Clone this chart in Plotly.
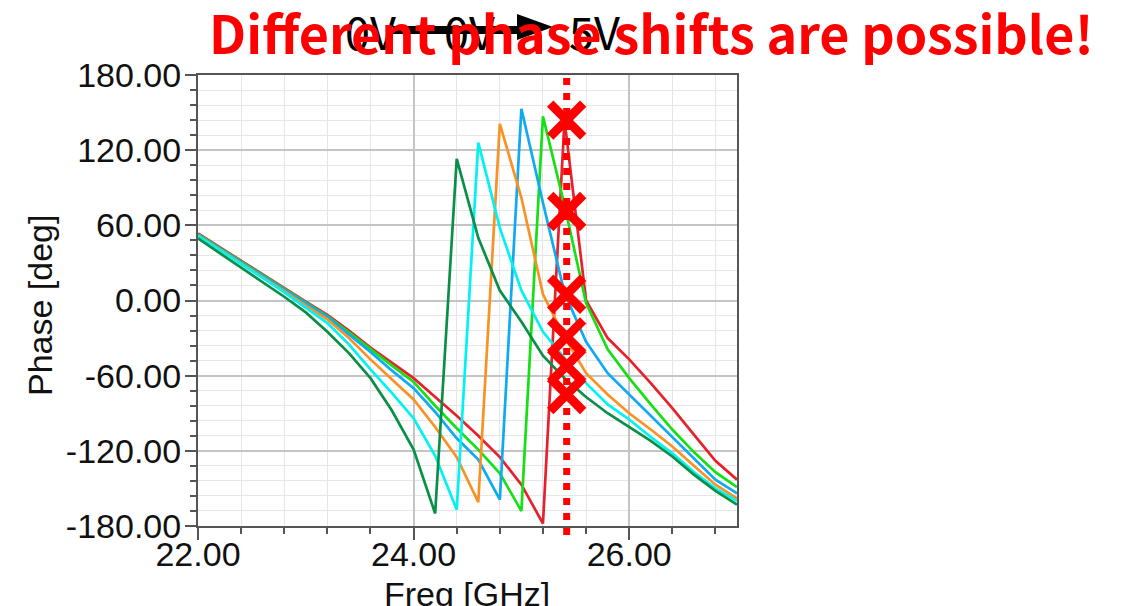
import plotly.graph_objects as go

# ---------------- data ----------------
freq_ghz = [22.0, 22.2, 22.4, 22.6, 22.8, 23.0, 23.2, 23.4, 23.6, 23.8,
            24.0, 24.2, 24.4, 24.6, 24.8, 25.0, 25.2, 25.4, 25.6, 25.8,
            26.0, 26.2, 26.4, 26.6, 26.8, 27.0]

phase_red = [53.5, 42.5, 31.5, 20.5, 9.5, -1.0, -11.5, -24.0, -37.5, -50.0,
             -62.0, -77.0, -92.0, -108.0, -125.0, -147.0, -178.0, 144.0, 0.0, -30.0,
             -47.0, -66.0, -86.0, -107.0, -128.0, -143.0]
phase_green = [53.0, 42.0, 31.0, 20.0, 9.0, -2.0, -12.5, -25.5, -39.0, -52.0,
               -65.0, -84.0, -102.0, -119.0, -138.0, -168.0, 147.0, 76.0, -2.0, -39.0,
               -62.0, -83.0, -103.0, -121.0, -137.0, -149.0]
phase_blue = [52.5, 41.5, 30.5, 19.5, 8.5, -2.0, -13.0, -27.0, -41.0, -56.0,
              -70.0, -89.0, -110.0, -127.0, -159.0, 153.0, 78.0, 6.0, -33.0, -58.0,
              -75.0, -92.0, -108.5, -126.0, -143.0, -154.0]
phase_orange = [52.0, 41.0, 30.0, 19.0, 7.5, -4.0, -15.0, -30.0, -47.0, -63.0,
                -79.0, -101.0, -125.0, -161.0, 141.0, 82.0, 5.0, -29.0, -58.0, -75.0,
                -90.0, -103.0, -116.5, -132.0, -147.0, -158.0]
phase_cyan = [51.5, 40.5, 29.5, 18.0, 6.5, -5.5, -18.0, -35.0, -55.0, -74.0,
              -94.0, -124.0, -167.0, 126.0, 58.0, 8.0, -25.0, -46.0, -66.0, -83.0,
              -95.0, -109.0, -122.0, -137.0, -150.0, -160.0]
phase_dkgreen = [49.5, 38.0, 26.5, 15.0, 3.0, -9.5, -25.0, -42.0, -62.0, -88.0,
                 -119.0, -170.0, 113.0, 50.0, 8.0, -17.0, -44.0, -62.0, -77.0, -90.0,
                 -101.0, -112.0, -124.5, -139.0, -152.0, -163.0]

marker_freq = 25.42
marker_phase = [144, 71, 5, -29, -52, -75]

y_ticks = [-180, -120, -60, 0, 60, 120, 180]
y_tick_labels = ["-180.00", "-120.00", "-60.00", "0.00", "60.00", "120.00", "180.00"]
x_ticks = [22, 24, 26]
x_tick_labels = ["22.00", "24.00", "26.00"]

series = [
    ("red", phase_red, "#e8202c"),
    ("green", phase_green, "#14e014"),
    ("blue", phase_blue, "#0eaaf2"),
    ("orange", phase_orange, "#f89224"),
    ("cyan", phase_cyan, "#00f2f2"),
    ("dkgreen", phase_dkgreen, "#0a8f48"),
]

# ---------------- figure ----------------
W, H = 1123, 606
L, R, T, B = 198, 386, 75, 80
PW, PH = W - L - R, H - T - B


def px(x):
    return (x - L) / PW


def py(y):
    return (H - B - y) / PH


fig = go.Figure()
for name, ys, col in series:
    fig.add_trace(go.Scatter(x=freq_ghz, y=ys, mode="lines", name=name,
                             line=dict(color=col, width=2.7), hoverinfo="skip"))

fig.add_trace(go.Scatter(
    x=[marker_freq] * len(marker_phase), y=marker_phase, mode="markers",
    marker=dict(symbol="x-thin", size=33, color="#ff0000",
                line=dict(color="#ff0000", width=9)),
    cliponaxis=False, hoverinfo="skip"))

fig.add_shape(type="line", xref="x", yref="paper", x0=marker_freq, x1=marker_freq,
              y0=-0.02, y1=0.995, line=dict(color="#ff0000", width=7, dash="7px,8px"),
              layer="above")

tick_font = dict(family="Liberation Sans, Arial, sans-serif", size=34, color="#111")
fig.update_xaxes(range=[22, 27], tickvals=x_ticks, ticktext=x_tick_labels,
                 showline=True, linecolor="#555", linewidth=2, mirror=True,
                 ticks="outside", ticklen=12, tickwidth=1.5, tickcolor="#555",
                 showgrid=True, gridcolor="#c4c4c4", gridwidth=1.5,
                 minor=dict(dtick=0.4, tick0=22, ticks="outside", ticklen=6, tickwidth=1.5,
                            tickcolor="#555", showgrid=True, gridcolor="#e6e6e6", gridwidth=1),
                 zeroline=False, tickfont=tick_font, ticklabelstandoff=-15)
fig.update_yaxes(range=[-180, 180], tickvals=y_ticks, ticktext=y_tick_labels,
                 showline=True, linecolor="#555", linewidth=2, mirror=True,
                 ticks="outside", ticklen=11, tickwidth=1.5, tickcolor="#555",
                 showgrid=True, gridcolor="#c4c4c4", gridwidth=1.5,
                 minor=dict(dtick=12, tick0=-180, ticks="outside", ticklen=6, tickwidth=1.5,
                            tickcolor="#555", showgrid=True, gridcolor="#e6e6e6", gridwidth=1),
                 zeroline=False, tickfont=tick_font, ticklabelstandoff=-3)

# axis titles
fig.add_annotation(xref="paper", yref="paper", x=px(467), y=py(594), text="Freq [GHz]",
                   showarrow=False, font=tick_font, xanchor="center", yanchor="middle")
fig.add_annotation(xref="paper", yref="paper", x=px(40), y=py(306), text="Phase [deg]",
                   showarrow=False, font=tick_font, textangle=-90,
                   xanchor="center", yanchor="middle")

# black header "0V ━ 0V ▶ 5V" (partly hidden by red text)
blk = dict(family="Noto Sans CJK KR, sans-serif", size=45, color="#000")
for txt, cx in [("0V", 370), ("0V", 469), ("5V", 594)]:
    fig.add_annotation(xref="paper", yref="paper", x=px(cx), y=py(31), text=txt,
                       showarrow=False, font=blk, xanchor="center", yanchor="middle")
fig.add_shape(type="rect", xref="paper", yref="paper", x0=px(393), x1=px(521),
              y0=py(34), y1=py(26), fillcolor="#000", line=dict(width=0))
fig.add_shape(type="path", xref="paper", yref="paper",
              path=f"M {px(517)} {py(14)} L {px(553)} {py(27)} L {px(517)} {py(40)} Z",
              fillcolor="#000", line=dict(width=0))

fig.add_annotation(xref="paper", yref="paper", x=px(207), y=py(32),
                   text="<b>Different phase shifts are possible!</b>", showarrow=False,
                   font=dict(family="Noto Sans CJK KR, sans-serif", size=52, color="#ff0000"),
                   xanchor="left", yanchor="middle")

fig.update_layout(width=W, height=H, margin=dict(l=L, r=R, t=T, b=B, autoexpand=False),
                  paper_bgcolor="white", plot_bgcolor="white", showlegend=False)

fig.write_html("out.html", config={"displayModeBar": False},
               post_script="document.body.style.margin='0';")
